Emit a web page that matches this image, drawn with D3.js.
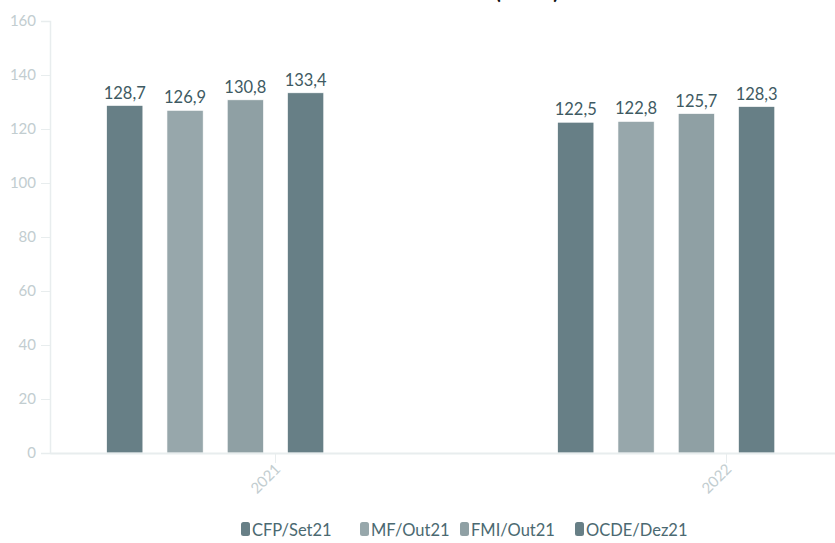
<!DOCTYPE html>
<html>
<head>
<meta charset="utf-8">
<script src="https://cdn.jsdelivr.net/npm/d3@7"></script>
<style>
  html, body { margin: 0; padding: 0; background: #fff; }
  svg { display: block; font-family: Lato, "Noto Sans", sans-serif; }
</style>
</head>
<body>
<svg id="chart" width="835" height="543"></svg>
<script>
// Anos (categorias) e previsões por instituição
const years = ["2021", "2022"];
const seriesNames = ["CFP/Set21", "MF/Out21", "FMI/Out21", "OCDE/Dez21"];
const seriesColors = ["#677f86", "#97a7ab", "#8fa0a4", "#677f86"];
const cfpSet21 = [128.7, 122.5];
const mfOut21 = [126.9, 122.8];
const fmiOut21 = [130.8, 125.7];
const ocdeDez21 = [133.4, 128.3];
const yTicks = [0, 20, 40, 60, 80, 100, 120, 140, 160];
const titleText = "(% PIB)";

const seriesValues = [cfpSet21, mfOut21, fmiOut21, ocdeDez21];
const fmt = v => v.toFixed(1).replace(".", ",");

const svg = d3.select("#chart");
const plot = { left: 50, right: 952, top: 21, bottom: 453 };

// Título (parcialmente acima da área visível)
svg.append("text")
  .attr("x", 527).attr("y", -1)
  .attr("text-anchor", "middle")
  .attr("font-size", 20).attr("font-weight", 700)
  .attr("fill", "#111")
  .text(titleText);

const x0 = d3.scaleBand().domain(years).range([plot.left, plot.right]);
// seis posições por grupo; as quatro primeiras têm barras
const slotCount = 6;
const x1 = d3.scaleBand().domain(d3.range(slotCount))
  .range([0, x0.bandwidth()]).paddingInner(0.4).paddingOuter(0.94);
const y = d3.scaleLinear().domain([0, 160]).range([plot.bottom, plot.top]);

// Eixo Y
const yAxis = svg.append("g")
  .attr("transform", `translate(${plot.left},0)`)
  .call(d3.axisLeft(y).tickValues(yTicks).tickSize(9).tickPadding(5));
yAxis.select(".domain").attr("stroke", "#e8edee").attr("stroke-width", 1.5);
yAxis.selectAll(".tick line").attr("stroke", "#e8edee");
yAxis.selectAll(".tick text")
  .attr("fill", "#c2cdd0").attr("font-size", 15)
  .attr("font-family", "Lato, sans-serif");

// Barras
seriesValues.forEach((vals, si) => {
  const g = svg.append("g");
  g.selectAll("rect").data(years).join("rect")
    .attr("x", d => x0(d) + x1(si))
    .attr("y", (d, i) => y(vals[i]))
    .attr("width", x1.bandwidth())
    .attr("height", (d, i) => y(0) - y(vals[i]))
    .attr("fill", seriesColors[si])
    .attr("stroke", "#fff").attr("stroke-width", 0.6);
  g.selectAll("text").data(years).join("text")
    .attr("x", d => x0(d) + x1(si) + x1.bandwidth() / 2)
    .attr("y", (d, i) => y(vals[i]) - 7)
    .attr("text-anchor", "middle")
    .attr("font-size", 16.5)
    .attr("fill", "#3e5a62")
    .text((d, i) => fmt(vals[i]));
});

// Eixo X
const xAxis = svg.append("g")
  .attr("transform", `translate(0,${plot.bottom})`)
  .call(d3.axisBottom(x0).tickSize(10).tickSizeOuter(0));
xAxis.select(".domain").attr("stroke", "#e8edee").attr("stroke-width", 2);
xAxis.selectAll(".tick line").attr("stroke", "#e8edee");
xAxis.selectAll(".tick text")
  .attr("fill", "#c2cdd0").attr("font-size", 15)
  .attr("font-family", "Lato, sans-serif")
  .attr("text-anchor", "end")
  .attr("dy", null).attr("y", 0)
  .attr("transform", "translate(6,17) rotate(-45)");

// Legenda
const legendX = [241, 360, 460, 575];
const legend = svg.append("g");
seriesNames.forEach((name, i) => {
  legend.append("rect")
    .attr("x", legendX[i]).attr("y", 522)
    .attr("width", 9).attr("height", 14).attr("rx", 2.5)
    .attr("fill", seriesColors[i]);
  legend.append("text")
    .attr("x", legendX[i] + 11).attr("y", 535.5)
    .attr("font-size", 16.5)
    .attr("fill", "#4b6971")
    .text(name);
});
</script>
</body>
</html>
